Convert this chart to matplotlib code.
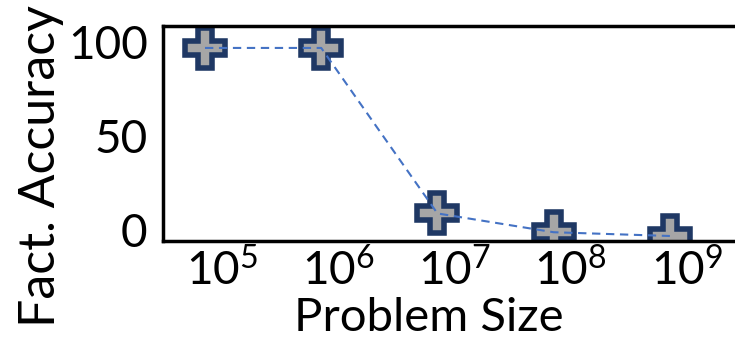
import numpy as np
import matplotlib
matplotlib.use("Agg")
import matplotlib.pyplot as plt
from matplotlib.transforms import ScaledTranslation

plt.rcParams['font.family'] = ['Lato', 'DejaVu Sans']
plt.rcParams['mathtext.fontset'] = 'custom'
plt.rcParams['mathtext.rm'] = 'Lato'
plt.rcParams['mathtext.it'] = 'Lato:italic'

# problem sizes and factorization accuracy (%)
problem_size = [1e5, 1e6, 1e7, 1e8, 1e9]
accuracy = [100, 100, 12, 2, 0]
y_ticks = [0, 50, 100]

fig = plt.figure(figsize=(7.35, 3.41), dpi=100)
ax = fig.add_axes([0.2218, 0.2947, 0.812, 0.6276])

# markers first, dashed line on top of them
ax.plot(problem_size, accuracy, linestyle='none', marker='P', markersize=29,
        markerfacecolor='#a6a6a6', markeredgecolor='#1f3864',
        markeredgewidth=4, zorder=2)
ax.plot(problem_size, accuracy, linestyle=(0, (4, 2.7)), color='#4472c4',
        linewidth=1.5, zorder=3)

ax.set_xscale('log')
ax.set_xlim(10**4.639, 10**9.774)
ax.set_ylim(-2.4, 111.4)
ax.set_xticks(problem_size)
ax.set_xticklabels([r'$10^{%d}$' % int(np.log10(v)) for v in problem_size])
ax.minorticks_off()
ax.set_yticks(y_ticks)

ax.tick_params(axis='both', length=0, labelsize=33)
ax.tick_params(axis='x', pad=5)
ax.tick_params(axis='y', pad=11)

# tick labels sit a little right / up in the original
for lab in ax.get_xticklabels():
    lab.set_transform(lab.get_transform() + ScaledTranslation(0.17, 0, fig.dpi_scale_trans))
for lab in ax.get_yticklabels():
    lab.set_transform(lab.get_transform() + ScaledTranslation(0, 0.06, fig.dpi_scale_trans))

ax.set_xlabel('Problem Size', fontsize=34)
ax.xaxis.set_label_coords(0.4456, -0.264)
ax.set_ylabel('Fact. Accuracy', fontsize=36)
ax.yaxis.set_label_coords(-0.166, 0.348)

for s in ['left', 'top', 'bottom']:
    ax.spines[s].set_linewidth(2.5)
ax.spines['right'].set_visible(False)

fig.savefig('out.png', dpi=100)
